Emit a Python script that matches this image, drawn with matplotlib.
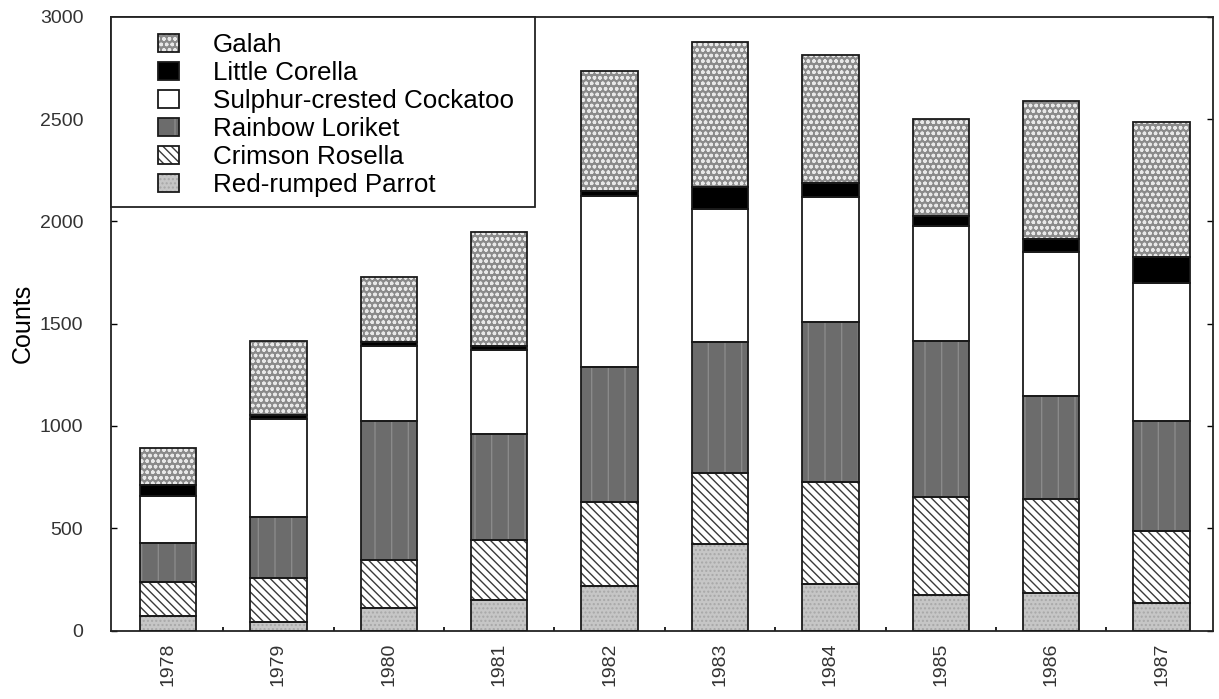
import numpy as np
import matplotlib
matplotlib.use("Agg")
from matplotlib import pyplot as plt
from matplotlib.patches import Patch, Rectangle

plt.rcParams['font.family'] = ['Liberation Sans', 'DejaVu Sans']
plt.rcParams['hatch.linewidth'] = 1.0

years = ['1978', '1979', '1980', '1981', '1982', '1983', '1984', '1985', '1986', '1987']

# counts per species (stack order bottom -> top)
red_rumped = [71, 43, 111, 149, 218, 425, 229, 173, 183, 133]
crimson_rosella = [168, 212, 234, 293, 412, 347, 495, 479, 459, 354]
rainbow_lorikeet = [190, 301, 680, 518, 659, 636, 785, 761, 504, 539]
sulphur_crested = [228, 476, 367, 411, 836, 654, 612, 566, 704, 672]
little_corella = [54, 21, 17, 21, 25, 105, 67, 48, 62, 126]
galah = [179, 362, 317, 554, 586, 707, 623, 471, 678, 663]

names = ['Red-rumped Parrot', 'Crimson Rosella', 'Rainbow Loriket',
         'Sulphur-crested Cockatoo', 'Little Corella', 'Galah']
series = [red_rumped, crimson_rosella, rainbow_lorikeet,
          sulphur_crested, little_corella, galah]
# (face colour, hatch, hatch colour)
styles = [('#c6c6c6', '....', '#a8a8a8'),
          ('white', '\\\\\\\\', '#3a3a3a'),
          ('#6c6c6c', '|', '#8a8a8a'),
          ('white', None, 'white'),
          ('black', None, 'black'),
          ('#8a8a8a', 'ooo', '#e8e8e8')]

fig = plt.figure(figsize=(12.19, 6.99), dpi=100)
ax = fig.add_axes([111 / 1219, (699 - 630.5) / 699, 1102 / 1219, 613.8 / 699])

x = np.arange(len(years))
width = 0.51
bottom = np.zeros(len(years))
handles = []
for name, vals, (fc, hatch, hc) in zip(names, series, styles):
    vals = np.array(vals)
    ax.bar(x, vals, width, bottom=bottom, color=fc, edgecolor=hc,
           hatch=hatch, linewidth=0, zorder=2)
    ax.bar(x, vals, width, bottom=bottom, fill=False, edgecolor='#1a1a1a',
           linewidth=1.3, zorder=3)
    bottom += vals
    handles.append((Patch(facecolor=fc, edgecolor=hc, hatch=hatch, linewidth=0),
                    Patch(fill=False, edgecolor='#1a1a1a', linewidth=1.3)))

ax.set_xlim(-0.516, 9.466)
ax.set_ylim(0, 3000)
ax.set_yticks(np.arange(0, 3001, 500))
ax.set_xticks(x)
ax.set_xticklabels(years, rotation=90, fontsize=14, color='#333333')
ax.set_xticks(np.arange(0.5, 9, 1), minor=True)
ax.tick_params(axis='x', which='major', length=0, pad=9)
ax.tick_params(axis='x', which='minor', direction='in', length=3, width=1.2)
ax.tick_params(axis='y', direction='in', length=4, width=1, right=True,
               labelsize=14, labelcolor='#333333', pad=20)
for s in ax.spines.values():
    s.set_linewidth(1.3)
    s.set_color('#222222')

ax.set_ylabel('Counts', fontsize=18)
ax.yaxis.set_label_coords(-0.069, 0.5)

# legend box in the top-left corner
ax.add_patch(Rectangle((0, 0.690), 0.385, 0.310, transform=ax.transAxes,
                       facecolor='white', edgecolor='#222222', linewidth=1.3,
                       zorder=4, clip_on=False))
leg = ax.legend(handles[::-1], names[::-1], loc='upper left',
                bbox_to_anchor=(0.031, 0.994), frameon=False, fontsize=18.7,
                borderpad=0, labelspacing=0.15, handlelength=0.82,
                handleheight=0.7, handletextpad=1.3)
leg.set_zorder(5)

fig.savefig('out.png', dpi=100)
